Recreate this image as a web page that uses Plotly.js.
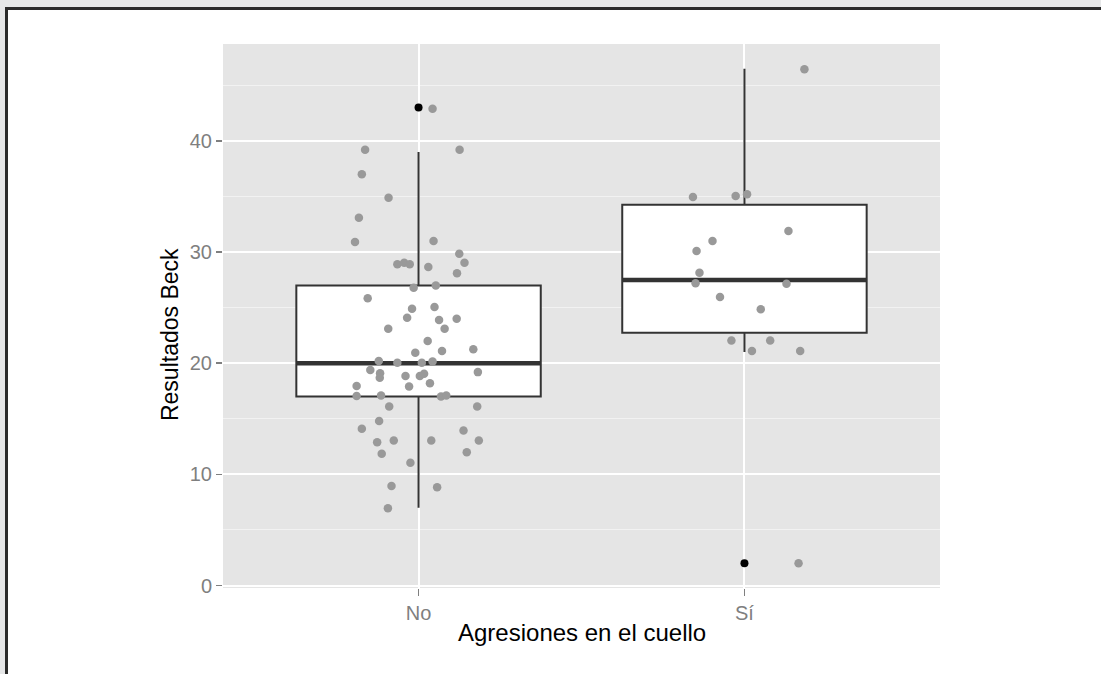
<!DOCTYPE html>
<html>
<head>
<meta charset="utf-8">
<script src="https://cdn.plot.ly/plotly-3.0.1.min.js"></script>
<style>
  html, body { margin: 0; padding: 0; width: 1101px; height: 674px; overflow: hidden; background: #e6e7e8; }
  #frame { position: absolute; left: 5px; top: 7px; width: 1200px; height: 800px; background: #ffffff;
           border-left: 3px solid #2b2b2b; border-top: 3px solid #2b2b2b; }
  #chart { position: absolute; left: 0; top: 0; width: 1101px; height: 674px; }
</style>
</head>
<body>
<div id="frame"></div>
<div id="chart"></div>
<script>
// Categories (x axis)
const categories = ['No', 'Sí'];

// Jittered observations, group "No"
const noValues = [42.9, 39.2, 39.2, 37.0, 34.9, 33.1, 30.9, 31.0, 29.85, 29.05, 28.9, 29.05, 28.9, 28.65, 28.1,
  26.8, 27.0, 25.85, 24.9, 25.05, 24.1, 23.9, 24.0, 23.1, 23.1, 22.0, 20.95, 21.1, 21.25, 20.2, 20.05, 20.05,
  20.15, 19.4, 19.1, 18.7, 18.85, 18.85, 19.05, 19.2, 18.2, 17.95, 17.9, 17.05, 17.1, 17.0, 17.1, 16.1, 16.1,
  14.8, 14.1, 13.95, 12.9, 13.05, 13.05, 13.05, 11.85, 12.0, 11.05, 8.95, 8.85, 6.95];
const noJitter = [0.043, -0.164, 0.126, -0.174, -0.092, -0.183, -0.195, 0.046, 0.125, 0.141, -0.065, -0.044,
  -0.027, 0.030, 0.118, -0.015, 0.053, -0.156, -0.020, 0.049, -0.035, 0.063, 0.117, -0.093, 0.080, 0.028,
  -0.010, 0.072, 0.168, -0.122, -0.065, 0.010, 0.043, -0.148, -0.118, -0.119, -0.040, 0.004, 0.017, 0.182,
  0.035, -0.190, -0.029, -0.190, -0.115, 0.069, 0.085, -0.090, 0.180, -0.121, -0.174, 0.138, -0.127, -0.076,
  0.039, 0.185, -0.113, 0.148, -0.025, -0.083, 0.057, -0.094];

// Jittered observations, group "Sí"
const siValues = [46.45, 34.95, 35.05, 35.2, 31.9, 31.0, 30.1, 28.15, 27.2, 27.15, 25.95, 24.85, 22.05, 22.05,
  21.1, 21.1, 2.0];
const siJitter = [0.184, -0.158, -0.027, 0.008, 0.135, -0.098, -0.147, -0.138, -0.150, 0.129, -0.075, 0.050,
  -0.040, 0.079, 0.023, 0.171, 0.166];

// Box statistics per category
const q1 = [17, 22.75];
const medians = [20, 27.5];
const q3 = [27, 34.25];
const lowerFence = [7, 21];
const upperFence = [39, 46.5];
const outliers = [43, 2];

// Axis ticks and titles
const yTicks = [0, 10, 20, 30, 40];
const xTitle = 'Agresiones en el cuello';
const yTitle = 'Resultados Beck';

const FONT = 'Liberation Sans, Arial, Helvetica, sans-serif';
const positions = categories.map((c, i) => i + 1);
const boxWidth = 0.75;

const traces = [
  {
    type: 'box',
    x: positions,
    q1: q1, median: medians, q3: q3,
    lowerfence: lowerFence, upperfence: upperFence,
    boxpoints: false,
    width: boxWidth,
    whiskerwidth: 0,
    fillcolor: '#ffffff',
    line: { color: '#333333', width: 2 },
    hoverinfo: 'skip',
    showlegend: false
  },
  {
    type: 'scatter', mode: 'lines',
    x: positions.flatMap(p => [p - boxWidth / 2, p + boxWidth / 2, null]),
    y: medians.flatMap(m => [m, m, null]),
    line: { color: '#333333', width: 4.5 },
    hoverinfo: 'skip', showlegend: false
  },
  {
    type: 'scatter', mode: 'markers',
    x: positions, y: outliers,
    marker: { color: '#000000', size: 8 },
    hoverinfo: 'skip', showlegend: false
  },
  {
    type: 'scatter', mode: 'markers',
    x: noJitter.map(j => positions[0] + j).concat(siJitter.map(j => positions[1] + j)),
    y: noValues.concat(siValues),
    marker: { color: '#999999', size: 8.5 },
    hoverinfo: 'skip', showlegend: false
  }
];

const layout = {
  width: 1101, height: 674,
  margin: { l: 223, r: 161, t: 44, b: 86, pad: 0 },
  paper_bgcolor: 'rgba(0,0,0,0)',
  plot_bgcolor: '#e5e5e5',
  showlegend: false,
  font: { family: FONT },
  xaxis: {
    range: [0.4, 2.6],
    tickmode: 'array', tickvals: positions, ticktext: categories,
    ticks: 'outside', ticklen: 7, tickwidth: 1.5, tickcolor: '#7f7f7f',
    tickfont: { family: FONT, size: 20, color: '#7f7f7f' },
    showgrid: true, gridcolor: '#ffffff', gridwidth: 2,
    zeroline: false, showline: false, automargin: false
  },
  yaxis: {
    range: [-0.225, 48.725],
    tickmode: 'array', tickvals: yTicks, ticktext: yTicks.map(String),
    ticks: 'outside', ticklen: 6, tickwidth: 1.5, tickcolor: '#7f7f7f',
    tickfont: { family: FONT, size: 20, color: '#7f7f7f' },
    showgrid: true, gridcolor: '#ffffff', gridwidth: 2,
    minor: { tickmode: 'array', tickvals: [5, 15, 25, 35, 45], showgrid: true, gridcolor: '#f2f2f2', gridwidth: 1, ticks: '' },
    zeroline: false, showline: false, automargin: false
  },
  annotations: [
    { text: xTitle, xref: 'paper', yref: 'paper', x: 0.5, y: -0.0827, xanchor: 'center', yanchor: 'middle',
      showarrow: false, font: { family: FONT, size: 24, color: '#000000' } },
    { text: yTitle, xref: 'paper', yref: 'paper', x: -0.0739, y: 0.465, xanchor: 'center', yanchor: 'middle',
      textangle: -90, showarrow: false, font: { family: FONT, size: 23, color: '#000000' } }
  ]
};

Plotly.newPlot('chart', traces, layout, { staticPlot: true, displayModeBar: false });
</script>
</body>
</html>
